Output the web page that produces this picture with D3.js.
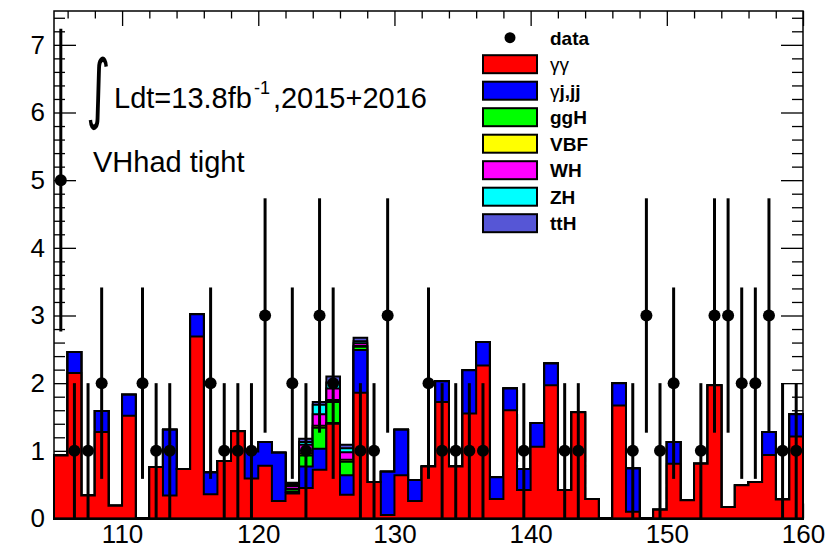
<!DOCTYPE html>
<html><head><meta charset="utf-8">
<script src="https://cdn.jsdelivr.net/npm/d3@7"></script>
<style>body{margin:0;background:#fff}svg{display:block}</style>
</head><body>
<script>
// ---- data ----
const binLow = d3.range(105, 160, 1);           // 1 GeV bins, 105..160
const yTicks = [0,1,2,3,4,5,6,7];
const xTicks = [110,120,130,140,150,160];
const seriesNames = ["γγ","γj,jj","ggH","VBF","WH","ZH","ttH"];
const seriesColors = ["#ff0000","#0000ff","#00ff00","#ffff00","#ff00ff","#00ffff","#5656d6"];
const gg  = [0.93,2.15,0.34,1.28,0.19,1.52,0,0.76,0.34,0.73,2.69,0.36,0.85,1.29,0.59,0.78,0.26,0.37,0.45,0.72,1.40,0.35,1.86,0.54,0.05,0.64,0.26,0.77,1.72,0.77,1.55,2.26,0.29,1.60,0.42,1.06,1.97,0.42,1.57,0.29,0,1.67,0.10,0,0.13,0.81,0.27,0.81,1.97,0.17,0.49,0.54,0.94,0.28,1.21];
const gj  = [0,0.31,0,0.31,0,0.31,0,0,0.97,0,0.33,0.32,0,0,0.40,0.35,0.71,0.02,0.32,0.31,0.01,0.29,0.63,0,0.64,0.67,0.31,0,0.31,0,0.64,0.35,0.32,0.32,0.31,0.35,0.32,0,0,0,0,0.33,0.64,0,0,0.32,0,0,0,0,0,0,0.34,0,0.33];
const ggH = [0,0,0,0,0,0,0,0,0,0,0,0,0,0,0,0,0,0.04,0.16,0.31,0.31,0.20,0.05,0,0,0,0,0,0,0,0,0,0,0,0,0,0,0,0,0,0,0,0,0,0,0,0,0,0,0,0,0,0,0,0];
const vbf = [0,0,0,0,0,0,0,0,0,0,0,0,0,0,0,0,0,0.01,0.03,0.03,0.03,0.03,0.01,0,0,0,0,0,0,0,0,0,0,0,0,0,0,0,0,0,0,0,0,0,0,0,0,0,0,0,0,0,0,0,0];
const wh  = [0,0,0,0,0,0,0,0,0,0,0,0,0,0,0,0,0,0.04,0.13,0.17,0.17,0.11,0.04,0,0,0,0,0,0,0,0,0,0,0,0,0,0,0,0,0,0,0,0,0,0,0,0,0,0,0,0,0,0,0,0];
const zh  = [0,0,0,0,0,0,0,0,0,0,0,0,0,0,0,0,0,0.03,0.04,0.14,0.09,0.06,0.03,0,0,0,0,0,0,0,0,0,0,0,0,0,0,0,0,0,0,0,0,0,0,0,0,0,0,0,0,0,0,0,0];
const tth = [0,0,0,0,0,0,0,0,0,0,0,0,0,0,0,0,0,0.02,0.05,0.04,0.09,0.05,0.05,0,0,0,0,0,0,0,0,0,0,0,0,0,0,0,0,0,0,0,0,0,0,0,0,0,0,0,0,0,0,0,0];
const dataCounts = [5,1,1,2,0,0,2,1,1,0,0,2,1,1,1,3,0,2,1,3,2,0,1,1,3,0,0,2,1,1,1,1,0,0,1,0,0,1,1,0,0,0,1,3,1,2,0,1,3,3,2,2,3,1,1];

// ---- layout ----
const W = 836, H = 551;
const L = 54, R = 803, T = 11, B = 518.5;
const x = d3.scaleLinear().domain([105,160]).range([L,R]);
const y = d3.scaleLinear().domain([0,7.5]).range([B,T]);

const svg = d3.select("body").append("svg").attr("width",W).attr("height",H)
  .style("font-family","'Liberation Sans', Arial, Helvetica, sans-serif");

// ---- axes (drawn under the histograms) ----
const minorY = d3.range(0, 7.5, 0.2).map(v => +v.toFixed(1)).filter(v => Math.abs(v - Math.round(v)) > 1e-6);
const minorX = d3.range(106, 160, 2).filter(v => v % 10 !== 0);

function styleAxis(g){ g.select(".domain").remove(); g.selectAll("line").attr("stroke","#000").attr("stroke-width",1.3); }

svg.append("g").attr("transform",`translate(${L},0)`)
  .call(d3.axisLeft(y).tickValues(yTicks).tickFormat(d3.format("d")).tickSize(-22).tickPadding(9))
  .call(styleAxis)
  .call(g => g.selectAll("text").attr("font-size",26).attr("fill","#000").attr("font-family","'Liberation Sans', Arial, sans-serif"));
svg.append("g").attr("transform",`translate(${L},0)`)
  .call(d3.axisLeft(y).tickValues(minorY).tickFormat("").tickSize(-11)).call(styleAxis);
svg.append("g").attr("transform",`translate(${R},0)`)
  .call(d3.axisRight(y).tickValues(yTicks).tickFormat("").tickSize(-22)).call(styleAxis);
svg.append("g").attr("transform",`translate(${R},0)`)
  .call(d3.axisRight(y).tickValues(minorY).tickFormat("").tickSize(-11)).call(styleAxis);

svg.append("g").attr("transform",`translate(0,${B})`)
  .call(d3.axisBottom(x).tickValues(xTicks).tickFormat(d3.format("d")).tickSize(-15).tickPadding(6))
  .call(styleAxis)
  .call(g => g.selectAll("text").attr("font-size",26).attr("fill","#000").attr("font-family","'Liberation Sans', Arial, sans-serif"));
svg.append("g").attr("transform",`translate(0,${B})`)
  .call(d3.axisBottom(x).tickValues(minorX).tickFormat("").tickSize(-7.5)).call(styleAxis);
svg.append("g").attr("transform",`translate(0,${T})`)
  .call(d3.axisTop(x).tickValues(xTicks).tickFormat("").tickSize(-15)).call(styleAxis);
svg.append("g").attr("transform",`translate(0,${T})`)
  .call(d3.axisTop(x).tickValues(minorX).tickFormat("").tickSize(-7.5)).call(styleAxis);

// ---- stacked histograms (ROOT style: draw cumulative sums from top down) ----
const layers = [gg, gj, ggH, vbf, wh, zh, tth];
const cum = [];
let run = binLow.map(() => 0);
layers.forEach(s => { run = run.map((v,i) => v + s[i]); cum.push(run.slice()); });

function stepPath(h){
  let p = `M${x(105)},${y(0)}`;
  h.forEach((v,i) => { p += `L${x(binLow[i])},${y(v)}L${x(binLow[i]+1)},${y(v)}`; });
  p += `L${x(160)},${y(0)}Z`;
  return p;
}
const hg = svg.append("g");
for (let k = cum.length - 1; k >= 0; k--) {
  hg.append("path").attr("d", stepPath(cum[k]))
    .attr("fill", seriesColors[k]).attr("stroke","#000").attr("stroke-width",2)
    .attr("stroke-linejoin","miter");
}

// ---- frame ----
svg.append("rect").attr("x",L).attr("y",T).attr("width",R-L).attr("height",B-T)
  .attr("fill","none").attr("stroke","#000").attr("stroke-width",1.5);

// ---- data points ----
const pts = binLow.map((b,i) => ({c: b + 0.5, n: dataCounts[i]})).filter(d => d.n > 0);
const dg = svg.append("g");
dg.selectAll("line").data(pts).join("line")
  .attr("x1", d => x(d.c)).attr("x2", d => x(d.c))
  .attr("y1", d => y(Math.max(0, d.n - Math.sqrt(d.n)))).attr("y2", d => y(d.n + Math.sqrt(d.n)))
  .attr("stroke","#000").attr("stroke-width",3);
dg.selectAll("circle").data(pts).join("circle")
  .attr("cx", d => x(d.c)).attr("cy", d => y(d.n)).attr("r",6).attr("fill","#000");

// ---- labels ----
svg.append("text").attr("transform","translate(86,114) scale(0.62,1)").attr("font-size",76)
  .attr("font-family","'DejaVu Sans', sans-serif").attr("fill","#000").text("∫");
const lt = svg.append("text").attr("x",114).attr("y",108).attr("font-size",29).attr("fill","#000");
lt.append("tspan").text("Ldt=13.8fb");
lt.append("tspan").attr("font-size",18).attr("dx",2).attr("dy",-14).text("-1");
lt.append("tspan").attr("dx",3).attr("dy",14).text(",2015+2016");
svg.append("text").attr("x",93).attr("y",172).attr("font-size",29).attr("fill","#000").text("VHhad tight");

// ---- legend ----
const lg = svg.append("g");
const ly0 = 37.7, lstep = 26.5;
lg.append("circle").attr("cx",510).attr("cy",ly0).attr("r",5.5).attr("fill","#000");
lg.append("text").attr("x",550).attr("y",ly0+7).attr("font-size",19).attr("font-weight","bold").text("data");
seriesNames.forEach((nm,k) => {
  const cy = ly0 + lstep*(k+1);
  lg.append("rect").attr("x",483).attr("y",cy-9).attr("width",54).attr("height",18)
    .attr("fill",seriesColors[k]).attr("stroke","#000").attr("stroke-width",2);
  const t = lg.append("text").attr("x",550).attr("y",cy+7).attr("font-size",19).attr("fill","#000");
  if (nm.startsWith("γ")) {
    t.append("tspan").attr("font-weight","normal").text(nm.startsWith("γγ") ? "γγ" : "γ");
    if (nm !== "γγ") t.append("tspan").attr("font-weight","bold").text(nm.slice(1));
  } else {
    t.attr("font-weight","bold").text(nm);
  }
});
</script>
</body></html>
